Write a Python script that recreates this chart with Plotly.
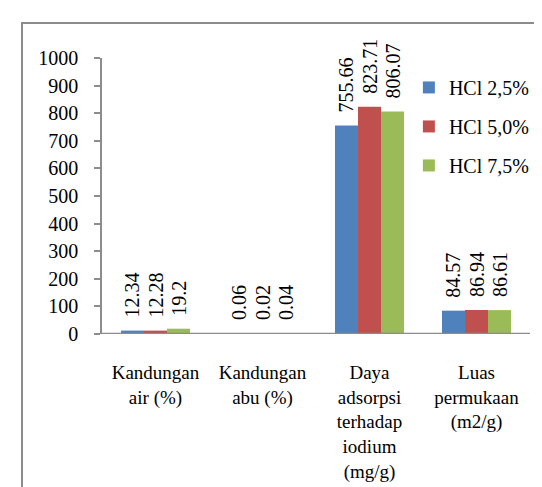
import plotly.graph_objects as go

categories = ["Kandungan<br>air (%)", "Kandungan<br>abu (%)", "Daya<br>adsorpsi<br>terhadap<br>iodium<br>(mg/g)", "Luas<br>permukaan<br>(m2/g)"]
hcl_25 = [12.34, 0.06, 755.66, 84.57]
hcl_50 = [12.28, 0.02, 823.71, 86.94]
hcl_75 = [19.2, 0.04, 806.07, 86.61]
series_names = ["HCl 2,5%", "HCl 5,0%", "HCl 7,5%"]
colors = ["#4F81BD", "#C0504D", "#9BBB59"]

FONT = "Liberation Serif"
W, H = 542, 487
L, R, T, B = 94, 20, 50, 154
GRAY = "#8C8C8C"

fig = go.Figure()
for name, vals, col in zip(series_names, [hcl_25, hcl_50, hcl_75], colors):
    fig.add_trace(go.Bar(
        name=name, x=categories, y=vals,
        marker=dict(color=col, line=dict(width=0)),
        texttemplate="\u00a0\u00a0%{y}",
        textposition="outside", textangle=-90,
        textfont=dict(family=FONT, size=20, color="black"),
        constraintext="none", cliponaxis=False,
        legendgroup=name,
    ))

pw = W - L - R
ph = H - T - B
bx = (14 - L) / pw
by = (H - B - 14) / ph
fig.add_shape(type="path", xref="paper", yref="paper",
              path=f"M {bx} -1 L {bx} {by} L 2 {by}",
              line=dict(color=GRAY, width=2))
# category axis baseline
fig.add_shape(type="line", xref="paper", yref="y", x0=0, x1=1, y0=0, y1=0,
              line=dict(color=GRAY, width=2.4), layer="above")

fig.update_layout(
    width=W, height=H,
    margin=dict(l=L, r=R, t=T, b=B),
    paper_bgcolor="white", plot_bgcolor="white",
    barmode="group", bargap=0.355, bargroupgap=0,
    font=dict(family=FONT, size=20, color="black"),
    showlegend=True,
    legend=dict(x=0.717, y=0.964, xanchor="left", yanchor="top",
                font=dict(family=FONT, size=20), tracegroupgap=10,
                bgcolor="rgba(0,0,0,0)"),
    xaxis=dict(showline=False, ticks="", showgrid=False, ticklabelstandoff=25,
               tickfont=dict(family=FONT, size=19), tickangle=0),
    yaxis=dict(range=[0, 1000], dtick=100, showline=True, linecolor=GRAY,
               linewidth=1.5, ticks="outside", ticklen=6, tickcolor=GRAY,
               tickwidth=1.5, showgrid=False, zeroline=False,
               ticklabelstandoff=12,
               tickfont=dict(family=FONT, size=20)),
)

fig.write_html("out.html")
